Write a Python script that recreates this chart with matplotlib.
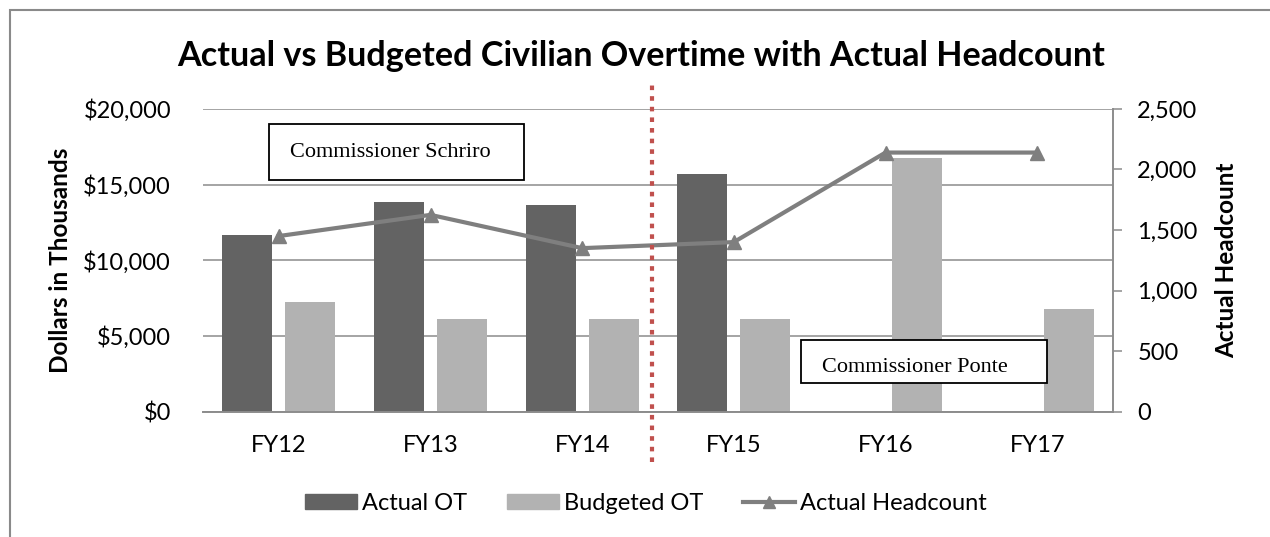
import numpy as np
import matplotlib.pyplot as plt
from matplotlib.patches import Rectangle, Patch
from matplotlib.lines import Line2D
from matplotlib.ticker import FuncFormatter

# values
years = ["FY12", "FY13", "FY14", "FY15", "FY16", "FY17"]
actual_ot = [11700, 13850, 13650, 15700, 0, 0]
budgeted_ot = [7250, 6100, 6100, 6100, 16750, 6750]
headcount = [1450, 1625, 1350, 1400, 2140, 2140]

SANS = "Lato"
SERIF = "Liberation Serif"
GRID = "#8c8c8c"
FS = 17

fig = plt.figure(figsize=(12.7, 5.37), dpi=100)
ax = fig.add_axes([203 / 1270, 1 - 411.5 / 537, 910 / 1270, 302.5 / 537])
ax2 = ax.twinx()

x = np.arange(len(years))
w = 0.33
off = 0.2077
ax.bar(x - off, actual_ot, w, color="#636363", linewidth=0, zorder=2)
ax.bar(x + off, budgeted_ot, w, color="#b2b2b2", linewidth=0, zorder=2)

ax.set_xlim(-0.5, len(years) - 0.5)
ax.set_ylim(0, 20000)
ax.set_yticks(np.arange(0, 20001, 5000))
ax.yaxis.set_major_formatter(FuncFormatter(lambda v, p: f"${v:,.0f}"))
ax.grid(axis="y", color=GRID, linewidth=1.1, zorder=0)
ax.set_axisbelow(True)
for s in ["top", "left", "right"]:
    ax.spines[s].set_visible(False)
ax.spines["bottom"].set_color(GRID)
ax.spines["bottom"].set_linewidth(1.4)
ax.set_xticks(x)
ax.set_xticklabels(years)
ax.tick_params(axis="x", length=0, pad=17, labelsize=FS)
ax.tick_params(axis="y", length=0, pad=23, labelsize=FS)
for lab in ax.get_xticklabels() + ax.get_yticklabels():
    lab.set_fontfamily(SANS)
ax.set_ylabel("Dollars in Thousands", fontsize=17.5, fontweight="bold",
              fontfamily=SANS)
ax.yaxis.set_label_coords((72 - 203) / 910, 0.5)

ax2.plot(x, headcount, color="#7f7f7f", linewidth=3, marker="^",
         markersize=10, zorder=4)
ax2.set_ylim(0, 2500)
ax2.set_yticks(np.arange(0, 2501, 500))
ax2.yaxis.set_major_formatter(FuncFormatter(lambda v, p: f"{v:,.0f}"))
for s in ["top", "left", "bottom"]:
    ax2.spines[s].set_visible(False)
ax2.spines["right"].set_color(GRID)
ax2.spines["right"].set_linewidth(1.4)
ax2.tick_params(axis="y", direction="out", length=6.5, width=1.1, color=GRID,
                pad=11, labelsize=FS)
for lab in ax2.get_yticklabels():
    lab.set_fontfamily(SANS)
ax2.set_ylabel("Actual Headcount", fontsize=17.5, fontweight="bold",
               fontfamily=SANS)
ax2.yaxis.set_label_coords((1215 - 203) / 910, 0.5)

# divider between commissioners
ax2.axvline(2.462, ymin=-0.166, ymax=1.079, color="#c0504d", linewidth=3,
            dashes=(1.1, 1.45), clip_on=False, zorder=5)

fig.text(641 / 1270, 1 - 66 / 537,
         "Actual vs Budgeted Civilian Overtime with Actual Headcount",
         ha="center", va="baseline", fontsize=24.6, fontweight="bold",
         fontfamily=SANS)

# annotation boxes
for (x0, y0, x1, y1), label, tx, base in [
        ((269, 124, 524, 180), "Commissioner Schriro", 290, 157),
        ((801, 340, 1047, 383), "Commissioner Ponte", 822, 372)]:
    fig.patches.append(Rectangle((x0 / 1270, 1 - y1 / 537), (x1 - x0) / 1270,
                                 (y1 - y0) / 537, transform=fig.transFigure,
                                 facecolor="white", edgecolor="black",
                                 linewidth=1.3, zorder=6))
    fig.text(tx / 1270, 1 - base / 537, label, ha="left", va="baseline",
             fontsize=16, fontfamily=SERIF, zorder=7)

# outer chart border
fig.patches.append(Rectangle((10 / 1270, -0.05), 1.1, 1 - 10 / 537 + 0.05,
                             transform=fig.transFigure, fill=False,
                             edgecolor="#8a8a8a", linewidth=1.5))

handles = [Patch(color="#636363"), Patch(color="#b2b2b2"),
           Line2D([], [], color="#7f7f7f", linewidth=3, marker="^", markersize=8)]
fig.legend(handles, ["Actual OT", "Budgeted OT", "Actual Headcount"],
           loc="center", bbox_to_anchor=(646 / 1270, 1 - 503 / 537), ncol=3,
           frameon=False, prop={"family": SANS, "size": FS},
           handlelength=2.2, handleheight=0.6, handletextpad=0.2,
           columnspacing=1.7)

fig.savefig("out.png", dpi=100)
